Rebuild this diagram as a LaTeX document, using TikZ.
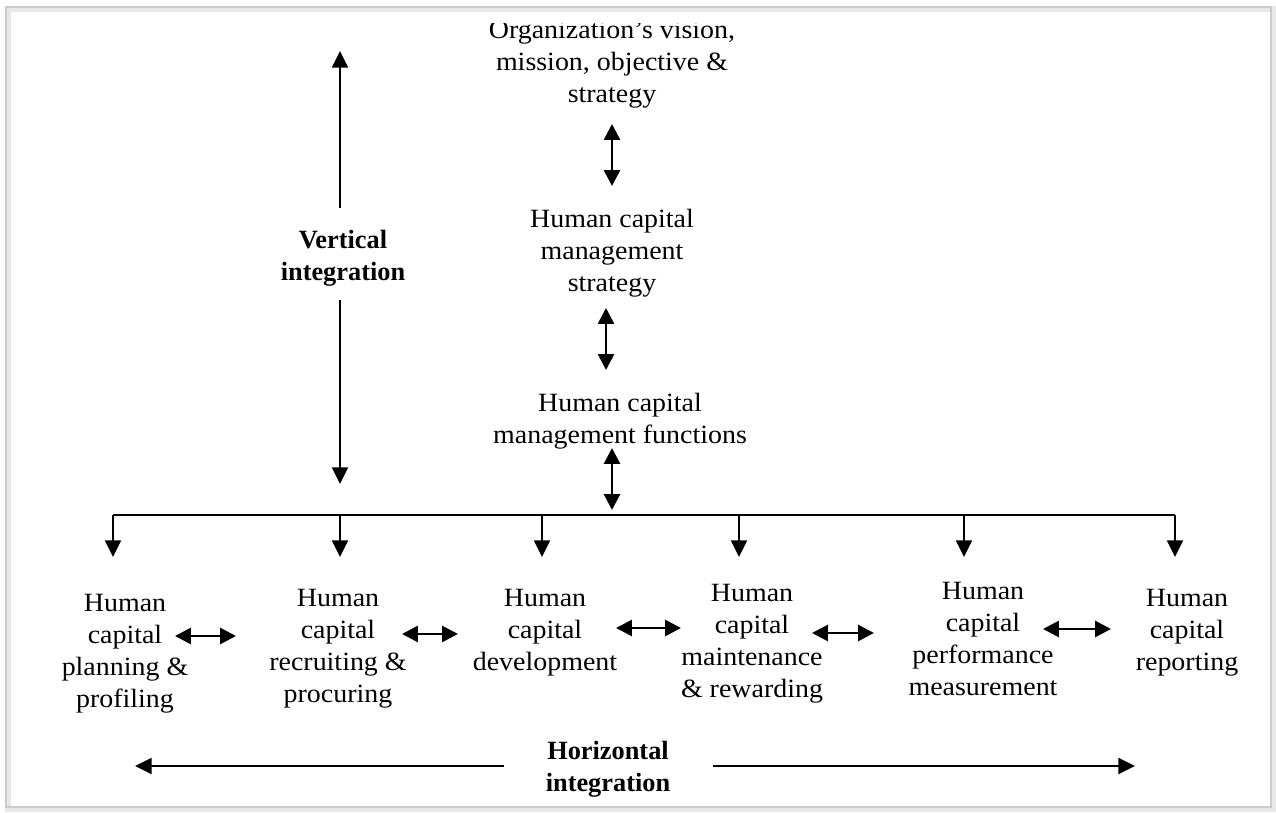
\documentclass[tikz,border=0pt]{standalone}
\usepackage{fontspec}
\setmainfont{Liberation Serif}[FakeStretch=1.06]
\newfontfamily\labelserif{Liberation Serif}
\usetikzlibrary{arrows.meta}
\begin{document}
\begin{tikzpicture}[x=0.02cm,y=-0.02cm,
  txt/.style={inner sep=0pt,align=center,font=\fontsize{15}{18.2}\selectfont},
  btxt/.style={inner sep=0pt,align=center,font=\labelserif\fontsize{15}{18}\selectfont\bfseries},
  con/.style={line width=1.6pt,-{Triangle[length=9.5pt,width=9pt]}},
  dbl/.style={line width=1.6pt,{Triangle[length=9pt,width=9pt]}-{Triangle[length=9pt,width=9pt]}},
  bus/.style={line width=1.6pt}]
\useasboundingbox (0,0) rectangle (1276,813);
% frame with a soft shadow
\draw[gray!18,line width=3pt] (8,9) rectangle (1273,809);
\draw[gray!40,line width=0.8pt] (6,7) rectangle (1271,807);
% hierarchy of the top (first line cut by the page edge)
\begin{scope}
\clip (7,24) rectangle (1270,806);
\node[txt] (org) at (612,65) {Organization’s vision,\\mission, objective \&\\strategy};
\end{scope}
\node[txt] (hcms) at (612,253) {Human capital\\management\\strategy};
\node[txt] (hcmf) at (620,421) {Human capital\\management functions};
\coordinate (a1t) at (612,124); \coordinate (a1b) at (612,186);
\coordinate (a2t) at (606,308); \coordinate (a2b) at (606,370);
\coordinate (a3t) at (612,448); \coordinate (a3b) at (612,510);
\draw[dbl] (a1t) -- (a1b);
\draw[dbl] (a2t) -- (a2b);
\draw[dbl] (a3t) -- (a3b);
% vertical integration
\node[btxt] (vint) at (343,258) {Vertical\\integration};
\coordinate (vtop) at (340,51); \coordinate (vbot) at (340,484);
\coordinate (vup) at (340,208); \coordinate (vdn) at (340,300);
\draw[con] (vup) -- (vtop);
\draw[con] (vdn) -- (vbot);
% distribution bus
\coordinate (busL) at (113,515); \coordinate (busR) at (1175,515);
\draw[bus] (busL) -- (busR);
\foreach \x/\n in {113/d1,340/d2,542/d3,739/d4,964/d5,1175/d6}{
  \coordinate (\n s) at (\x,515);
  \coordinate (\n e) at (\x,557);
  \draw[con] (\n s) -- (\n e);
}
% functions
\node[txt] (f1) at (125,654) {Human\\capital\\planning \&\\profiling};
\node[txt] (f2) at (338,649) {Human\\capital\\recruiting \&\\procuring};
\node[txt] (f3) at (545,633) {Human\\capital\\development};
\node[txt] (f4) at (752,644) {Human\\capital\\maintenance\\\& rewarding};
\node[txt] (f5) at (983,639) {Human\\capital\\performance\\measurement};
\node[txt] (f6) at (1187,633) {Human\\capital\\reporting};
\coordinate (h1a) at (175,636); \coordinate (h1b) at (236,636);
\coordinate (h2a) at (402,634); \coordinate (h2b) at (458,634);
\coordinate (h3a) at (616,628); \coordinate (h3b) at (681,628);
\coordinate (h4a) at (812,633); \coordinate (h4b) at (874,633);
\coordinate (h5a) at (1043,629); \coordinate (h5b) at (1111,629);
\foreach \i in {1,...,5}{\draw[dbl] (h\i a) -- (h\i b);}
% horizontal integration
\node[btxt] (hint) at (608,769) {Horizontal\\integration};
\coordinate (hl) at (135,766); \coordinate (hr) at (1135,766);
\coordinate (hlo) at (504,766); \coordinate (hro) at (713,766);
\draw[con] (hlo) -- (hl);
\draw[con] (hro) -- (hr);
\end{tikzpicture}
\end{document}
